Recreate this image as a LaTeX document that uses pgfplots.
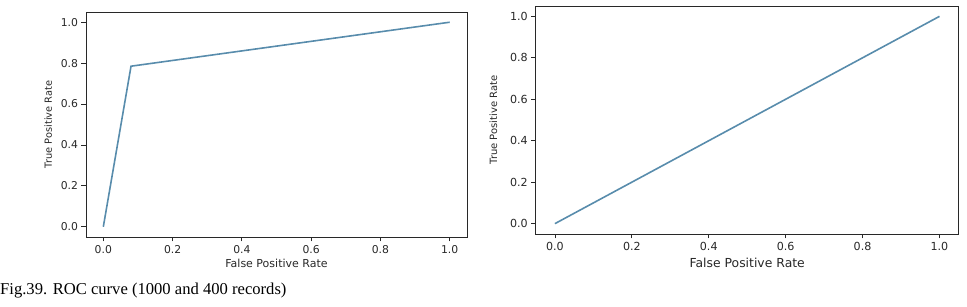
\documentclass[border=0pt]{standalone}
\usepackage{pgfplots}
\pgfplotsset{compat=1.18}
\usepackage{fontspec}
\setmainfont{DejaVu Sans}
\newfontfamily\capfont{Liberation Serif}
\definecolor{roc}{RGB}{88,140,172}
\definecolor{frame}{RGB}{40,40,40}
\begin{document}
\begin{tikzpicture}
\path (0pt,0pt) rectangle (967pt,307pt);
\pgfplotsset{
  rocax/.style={
    scale only axis,
    xmin=-0.05, xmax=1.05, ymin=-0.05, ymax=1.05,
    xtick={0,0.2,0.4,0.6,0.8,1.0},
    ytick={0,0.2,0.4,0.6,0.8,1.0},
    xticklabel style={/pgf/number format/fixed,/pgf/number format/fixed zerofill,/pgf/number format/precision=1},
    yticklabel style={/pgf/number format/fixed,/pgf/number format/fixed zerofill,/pgf/number format/precision=1},
    /pgf/number format/assume math mode=true,
    tick align=outside,
    major tick length=4.5pt,
    tick style={frame, line width=0.8pt},
    axis line style={frame, line width=0.9pt},
    xtick pos=bottom, ytick pos=left,
    tick label style={font=\fontsize{10.8}{12}\selectfont, text=frame},
    label style={text=frame},
  }
}
\begin{axis}[rocax,
  at={(86pt,70pt)}, anchor=south west,
  width=381pt, height=225pt,
  xlabel={False Positive Rate},
  ylabel={True Positive Rate},
  xlabel style={font=\fontsize{11}{12}\selectfont, yshift=1pt},
  ylabel style={font=\fontsize{9.8}{11}\selectfont, yshift=2pt},
]
\addplot[roc, line width=1.6pt] coordinates {(0,0) (0.08,0.785) (1,1)};
\end{axis}
\begin{axis}[rocax,
  at={(535.7pt,73pt)}, anchor=south west,
  width=423pt, height=228pt,
  xlabel={False Positive Rate},
  ylabel={True Positive Rate},
  xlabel style={font=\fontsize{12.4}{13}\selectfont, yshift=-1pt},
  ylabel style={font=\fontsize{10}{11}\selectfont, yshift=6pt},
  tick label style={font=\fontsize{11.1}{12}\selectfont, text=frame},
]
\addplot[roc, line width=1.6pt] coordinates {(0,0) (1,1)};
\end{axis}
\node[anchor=base west, inner sep=0pt, font=\capfont\fontsize{16.6}{18}\selectfont] at (0pt,12pt) {Fig.39. ROC curve (1000 and 400 records)};
\end{tikzpicture}
\end{document}
